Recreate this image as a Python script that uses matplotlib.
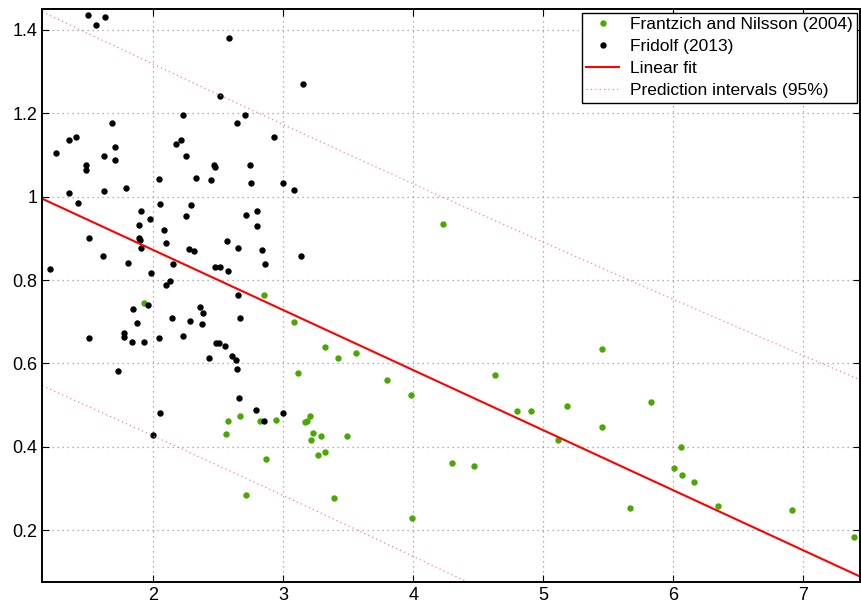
import numpy as np
import matplotlib
matplotlib.use('Agg')
import matplotlib.pyplot as plt

plt.rcParams['font.family'] = ['Liberation Sans', 'DejaVu Sans']

# Frantzich and Nilsson (2004)
fn_x = [1.927, 2.852, 3.083, 3.112, 3.319, 3.424, 3.558, 3.796, 3.986, 4.627,
        4.802, 4.909, 5.183, 5.452, 5.829, 5.452, 5.118, 6.060, 6.006, 6.068,
        6.160, 5.671, 6.344, 6.912, 7.391, 2.573, 2.671, 2.822, 2.945, 2.563,
        3.168, 3.183, 3.204, 3.231, 3.217, 3.294, 3.490, 3.268, 3.325, 2.871,
        2.714, 3.394, 3.994, 4.296, 4.471, 4.227]
fn_y = [0.744, 0.764, 0.699, 0.578, 0.640, 0.612, 0.626, 0.561, 0.525, 0.572,
        0.486, 0.487, 0.499, 0.634, 0.508, 0.448, 0.417, 0.399, 0.350, 0.333,
        0.315, 0.254, 0.257, 0.249, 0.184, 0.462, 0.474, 0.463, 0.465, 0.430,
        0.460, 0.463, 0.474, 0.433, 0.416, 0.426, 0.427, 0.381, 0.387, 0.370,
        0.284, 0.278, 0.229, 0.361, 0.355, 0.935]

# Fridolf (2013)
fr_x = [1.498, 1.558, 1.629, 2.583, 3.152, 2.517, 1.255, 1.352, 1.409, 1.686,
        1.486, 1.486, 1.622, 1.709, 1.709, 1.788, 1.352, 1.622, 2.225, 2.175,
        2.212, 2.252, 2.045, 2.327, 2.442, 2.468, 2.473, 2.645, 2.702, 2.927,
        2.745, 2.752, 2.998, 3.081, 1.424, 1.204, 1.509, 1.614, 1.806, 1.909,
        1.891, 1.891, 1.896, 1.909, 1.973, 1.986, 2.050, 2.081, 2.101, 2.148,
        2.127, 2.096, 2.248, 2.288, 2.273, 2.314, 2.473, 2.512, 2.571, 2.578,
        2.650, 2.717, 2.802, 2.796, 2.835, 2.860, 3.135, 2.652, 2.668, 1.960,
        1.845, 1.873, 1.771, 1.771, 1.835, 1.929, 1.506, 1.729, 2.042, 2.145,
        2.232, 2.281, 2.360, 2.386, 2.378, 2.425, 2.486, 2.506, 2.555, 2.606,
        2.637, 2.642, 2.658, 2.788, 2.998, 2.055, 2.855, 1.994]
fr_y = [1.437, 1.413, 1.430, 1.381, 1.271, 1.242, 1.105, 1.136, 1.144, 1.178,
        1.075, 1.065, 1.098, 1.120, 1.087, 1.022, 1.008, 1.014, 1.195, 1.127,
        1.136, 1.098, 1.042, 1.045, 1.040, 1.075, 1.071, 1.178, 1.195, 1.144,
        1.075, 1.032, 1.032, 1.015, 0.984, 0.826, 0.900, 0.857, 0.840, 0.965,
        0.933, 0.900, 0.895, 0.876, 0.947, 0.817, 0.982, 0.921, 0.890, 0.839,
        0.798, 0.787, 0.954, 0.981, 0.875, 0.870, 0.832, 0.832, 0.894, 0.821,
        0.878, 0.957, 0.965, 0.929, 0.871, 0.839, 0.857, 0.765, 0.710, 0.739,
        0.730, 0.696, 0.672, 0.664, 0.651, 0.651, 0.662, 0.581, 0.662, 0.708,
        0.665, 0.701, 0.735, 0.722, 0.694, 0.614, 0.649, 0.649, 0.641, 0.619,
        0.609, 0.586, 0.516, 0.488, 0.480, 0.480, 0.462, 0.428]

# linear fit y = a + b*x, prediction band half width sqrt(w0^2 + k*(x-xm)^2)
fit_a = 1.160
fit_b = -0.144
pi_w0 = 0.445
pi_k = 0.00115
pi_xm = 2.8

xlim = (1.145, 7.44)
ylim = (0.076, 1.45)

fig = plt.figure(figsize=(8.61, 6.08), dpi=100)
ax = fig.add_axes([0.049, 0.043, 0.950, 0.942])

ax.plot(fn_x, fn_y, 'o', color='#4aa800', markersize=4.6, markeredgewidth=0,
        label='Frantzich and Nilsson (2004)')
ax.plot(fr_x, fr_y, 'o', color='black', markersize=4.6, markeredgewidth=0,
        label='Fridolf (2013)')

xs = np.linspace(xlim[0], xlim[1], 200)
fit = fit_a + fit_b * xs
w = np.sqrt(pi_w0**2 + pi_k * (xs - pi_xm)**2)
ax.plot(xs, fit, color='red', lw=1.5, label='Linear fit')
ax.plot(xs, fit + w, color='#ff6666', lw=0.9, ls=(0, (1, 2.5)), alpha=0.8,
        label='Prediction intervals (95%)')
ax.plot(xs, fit - w, color='#ff6666', lw=0.9, ls=(0, (1, 2.5)), alpha=0.8)

ax.set_xlim(xlim)
ax.set_ylim(ylim)
ax.set_xticks([2, 3, 4, 5, 6, 7])
ax.set_yticks([0.2, 0.4, 0.6, 0.8, 1.0, 1.2, 1.4])
ax.set_yticklabels(['0.2', '0.4', '0.6', '0.8', '1', '1.2', '1.4'])
ax.tick_params(direction='in', top=True, right=True, labelsize=13, length=5)
ax.grid(True, color='#999999', ls=(0, (1, 3)), lw=0.9)
for s in ax.spines.values():
    s.set_linewidth(1.4)

leg = ax.legend(loc='upper right', fontsize=12.5, numpoints=1, fancybox=False,
                framealpha=1, edgecolor='black', borderpad=0.25,
                labelspacing=0.4, handlelength=1.9, handletextpad=0.6,
                borderaxespad=0.2)
leg.get_frame().set_linewidth(1.0)

fig.savefig('out.png', dpi=100)
